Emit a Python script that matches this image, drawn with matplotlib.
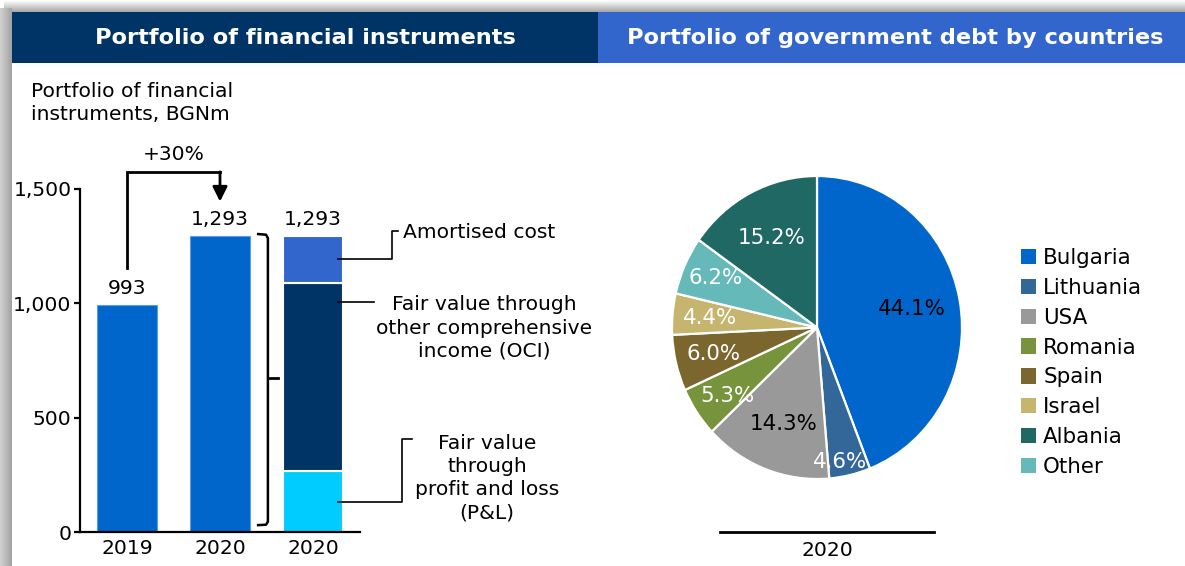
import matplotlib
matplotlib.use('Agg')
import matplotlib.pyplot as plt
import numpy as np
from matplotlib.patches import Rectangle, Patch

# ---------------- data ----------------
bar_categories = ['2019', '2020', '2020']
totals = [993, 1293]
total_labels = ['993', '1,293', '1,293']
stack_labels = ['Fair value\nthrough\nprofit and loss\n(P&L)',
                'Fair value through\nother comprehensive\nincome (OCI)',
                'Amortised cost']
stack_values = [265, 825, 203]
yticks = [0, 500, 1000, 1500]
ytick_labels = ['0', '500', '1,000', '1,500']
growth_label = '+30%'
bar_title = 'Portfolio of financial\ninstruments, BGNm'

countries = ['Bulgaria', 'Lithuania', 'USA', 'Romania', 'Spain', 'Israel', 'Other', 'Albania']
shares = [44.1, 4.6, 14.3, 5.3, 6.0, 4.4, 6.2, 15.2]
legend_order = ['Bulgaria', 'Lithuania', 'USA', 'Romania', 'Spain', 'Israel', 'Albania', 'Other']
pie_year = '2020'

header_left = 'Portfolio of financial instruments'
header_right = 'Portfolio of government debt by countries'

# ---------------- styles ----------------
W, H, DPI = 1185, 566, 100
FS = 14.6
FS_PIE = 15.4
LS = 1.28
bar_color = '#0066cc'
stack_colors = ['#00ccff', '#003366', '#3366cc']
country_colors = {'Bulgaria': '#0066cc', 'Lithuania': '#336699', 'USA': '#999999',
                  'Romania': '#77933c', 'Spain': '#7b672d', 'Israel': '#c6b56f',
                  'Other': '#66b9b9', 'Albania': '#206864'}
pct_colors = {'Bulgaria': 'black', 'USA': 'black'}
pct_pos = {'Bulgaria': (0.655, 0.119), 'Lithuania': (0.159, -0.891), 'USA': (-0.234, -0.640),
           'Romania': (-0.621, -0.455), 'Spain': (-0.717, -0.178), 'Israel': (-0.738, 0.066),
           'Other': (-0.703, 0.330), 'Albania': (-0.310, 0.594)}

plt.rcParams['font.family'] = ['DejaVu Sans']

fig = plt.figure(figsize=(W / DPI, H / DPI), dpi=DPI)
fig.patch.set_facecolor('white')

# background / pixel-coordinate axes
bg = fig.add_axes([0, 0, 1, 1])
bg.axis('off')

# shadows
top_grad = np.linspace(1.0, 0.66, 12)[:, None] * np.ones((12, 10))
bg.imshow(np.dstack([top_grad] * 3), extent=(4, W, 12, 0), aspect='auto', interpolation='bilinear')
left_grad = np.linspace(0.82, 0.64, 12)[None, :] * np.ones((10, 12))
bg.imshow(np.dstack([left_grad] * 3), extent=(0, 12, H, 8), aspect='auto', interpolation='bilinear')
bg.set_xlim(0, W)
bg.set_ylim(H, 0)

# headers
bg.add_patch(Rectangle((12, 12), 586, 51, color='#003366', lw=0))
bg.add_patch(Rectangle((598, 12), 587, 51, color='#3366cc', lw=0))
bg.text(305, 38, header_left, color='white', fontsize=16.2, fontweight='bold', ha='center', va='center')
bg.text(895, 38, header_right, color='white', fontsize=16.2, fontweight='bold', ha='center', va='center')

bg.text(31, 103, bar_title, fontsize=FS, ha='left', va='center', linespacing=LS)
bg.text(174, 155, growth_label, fontsize=FS, ha='center', va='center')

# ---------------- bar chart ----------------
ax = fig.add_axes([80 / W, (H - 532) / H, 280 / W, 343 / H])
ax.set_xlim(-0.505, 2.505)
ax.set_ylim(0, 1500)
bw = 0.645
ax.bar([0, 1], totals, width=bw, color=bar_color, edgecolor='#5c9ce0', lw=0.8, zorder=2)
bottom = 0
for v, c in zip(stack_values, stack_colors):
    ax.bar(2, v, bottom=bottom, width=bw, color=c, edgecolor='white', lw=1.5, zorder=2)
    bottom += v
tops = totals + [sum(stack_values)]
for i, (t, lab) in enumerate(zip(tops, total_labels)):
    ax.annotate(lab, (i, t), xytext=(0, 5), textcoords='offset points', ha='center', va='bottom', fontsize=FS)

ax.set_xticks(range(3))
ax.set_xticklabels(bar_categories, fontsize=FS)
ax.set_yticks(yticks)
ax.set_yticklabels(ytick_labels, fontsize=FS)
for s in ['top', 'right']:
    ax.spines[s].set_visible(False)
for s in ['left', 'bottom']:
    ax.spines[s].set_linewidth(1.6)
ax.tick_params(axis='y', length=4, width=1.6, pad=2)
ax.tick_params(axis='x', length=0, pad=5)

# growth bracket
ax.plot([0, 0, 1], [1154, 1574, 1574], color='black', lw=2, clip_on=False, solid_joinstyle='miter')
ax.annotate('', xy=(1, 1445), xytext=(1, 1575), annotation_clip=False,
            arrowprops=dict(arrowstyle='-|>', color='black', lw=2, mutation_scale=22,
                            shrinkA=0, shrinkB=0))

# right bracket
bx0, bx1, bx2 = 1.41, 1.515, 1.625
ax.plot([bx0, bx1 - 0.02, bx1, bx1, bx1 - 0.02, bx0], [1303, 1300, 1285, 45, 32, 30],
        color='black', lw=1.8, clip_on=False)
ax.plot([bx1, bx2], [673, 673], color='black', lw=2, clip_on=False)

# callouts
lc = dict(color='black', lw=1.2, clip_on=False)
ax.plot([2.27, 2.85, 2.85, 2.91], [1194, 1194, 1316, 1316], **lc)
ax.plot([2.27, 2.66], [1006, 1006], **lc)
ax.plot([2.27, 2.96, 2.96, 3.06], [131, 131, 407, 407], **lc)
bg.text(403, 233, stack_labels[2], fontsize=FS, ha='left', va='center')
bg.text(484, 328, stack_labels[1], fontsize=FS, ha='center', va='center', linespacing=LS)
bg.text(487, 478, stack_labels[0], fontsize=FS, ha='center', va='center', linespacing=LS)

# ---------------- pie ----------------
ax2 = fig.add_axes([672 / W, (H - 479) / H, 290 / W, 303 / H])
ax2.pie(shares, colors=[country_colors[c] for c in countries], startangle=90, counterclock=False,
        wedgeprops=dict(edgecolor='white', linewidth=1.6))
ax2.set_aspect('auto')
ax2.set_xlim(-1, 1)
ax2.set_ylim(-1, 1)
for c, v in zip(countries, shares):
    x, y = pct_pos[c]
    ax2.text(x, y, f'{v:.1f}%', ha='center', va='center', fontsize=FS_PIE,
             color=pct_colors.get(c, 'white'), clip_on=False)

handles = [Patch(facecolor=country_colors[c], label=c) for c in legend_order]
fig.legend(handles=handles, loc='upper left', bbox_to_anchor=(1021 / W, 1 - 248 / H),
           frameon=False, fontsize=FS_PIE, handlelength=0.72, handleheight=0.72,
           handletextpad=0.32, labelspacing=0.46, borderpad=0, borderaxespad=0)

bg.plot([720, 934], [532, 532], color='black', lw=2)
bg.text(827, 551, pie_year, fontsize=FS, ha='center', va='center')

fig.savefig('out.png', dpi=DPI)
